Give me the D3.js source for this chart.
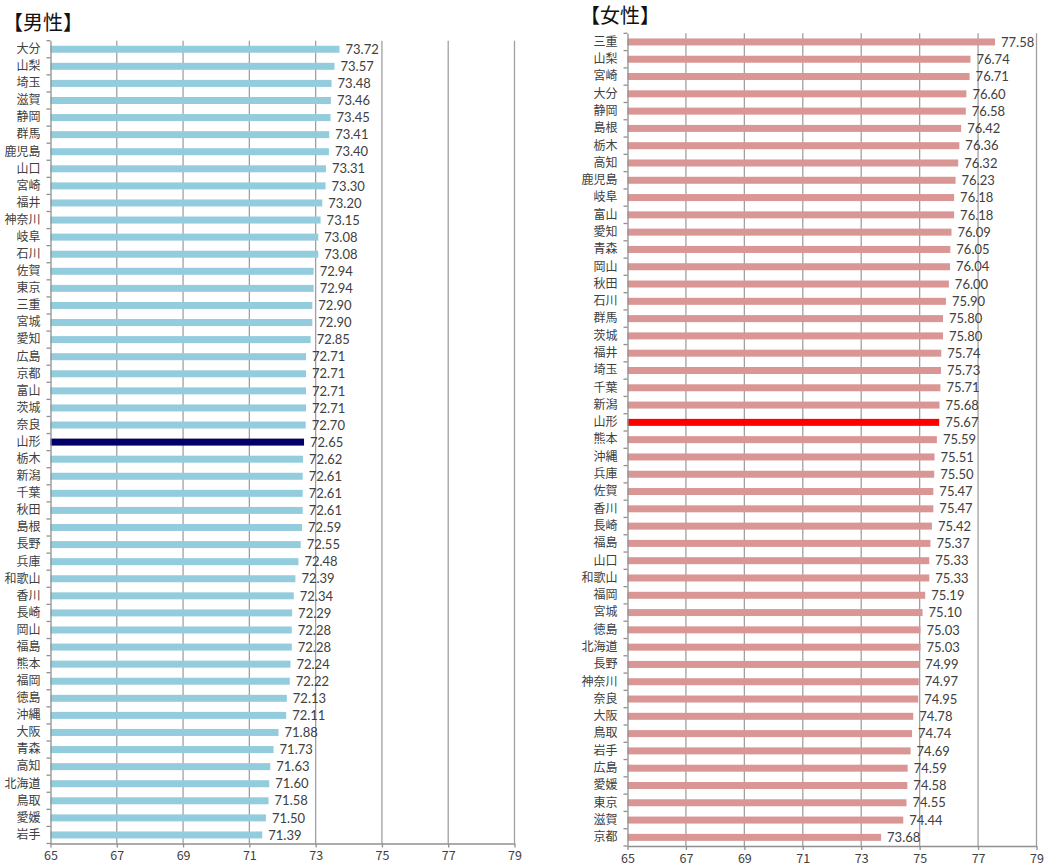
<!DOCTYPE html>
<html>
<head>
<meta charset="utf-8">
<script src="https://cdn.jsdelivr.net/npm/d3@7"></script>
<style>
  body { margin: 0; background: #fff; }
  svg { display: block; }
  text { font-family: "Noto Sans CJK JP", "Noto Sans", sans-serif; }
  .num { font-family: Lato, "Open Sans", sans-serif; }
</style>
</head>
<body>
<svg id="chart" width="1045" height="868"></svg>
<script>
// Male average healthy life expectancy by prefecture (years)
const maleNames = ["大分","山梨","埼玉","滋賀","静岡","群馬","鹿児島","山口","宮崎","福井","神奈川","岐阜","石川","佐賀","東京","三重","宮城","愛知","広島","京都","富山","茨城","奈良","山形","栃木","新潟","千葉","秋田","島根","長野","兵庫","和歌山","香川","長崎","岡山","福島","熊本","福岡","徳島","沖縄","大阪","青森","高知","北海道","鳥取","愛媛","岩手"];
const maleValues = [73.72,73.57,73.48,73.46,73.45,73.41,73.40,73.31,73.30,73.20,73.15,73.08,73.08,72.94,72.94,72.90,72.90,72.85,72.71,72.71,72.71,72.71,72.70,72.65,72.62,72.61,72.61,72.61,72.59,72.55,72.48,72.39,72.34,72.29,72.28,72.28,72.24,72.22,72.13,72.11,71.88,71.73,71.63,71.60,71.58,71.50,71.39];

// Female values
const femaleNames = ["三重","山梨","宮崎","大分","静岡","島根","栃木","高知","鹿児島","岐阜","富山","愛知","青森","岡山","秋田","石川","群馬","茨城","福井","埼玉","千葉","新潟","山形","熊本","沖縄","兵庫","佐賀","香川","長崎","福島","山口","和歌山","福岡","宮城","徳島","北海道","長野","神奈川","奈良","大阪","鳥取","岩手","広島","愛媛","東京","滋賀","京都"];
const femaleValues = [77.58,76.74,76.71,76.60,76.58,76.42,76.36,76.32,76.23,76.18,76.18,76.09,76.05,76.04,76.00,75.90,75.80,75.80,75.74,75.73,75.71,75.68,75.67,75.59,75.51,75.50,75.47,75.47,75.42,75.37,75.33,75.33,75.19,75.10,75.03,75.03,74.99,74.97,74.95,74.78,74.74,74.69,74.59,74.58,74.55,74.44,73.68];

const xTicks = [65, 67, 69, 71, 73, 75, 77, 79];
const highlight = "山形";

const svg = d3.select("#chart");

function drawPanel(cfg) {
  const { names, values, title, titlePos, xRange, yRange, color, hiColor } = cfg;
  const g = svg.append("g");
  const x = d3.scaleLinear().domain([65, 79]).range(xRange);
  const y = d3.scaleBand().domain(names).range(yRange).paddingInner(0).paddingOuter(0);
  const [y0, y1] = yRange;
  const x0 = x(65);

  // vertical gridlines
  g.selectAll("line.grid").data(xTicks.slice(1)).join("line")
    .attr("class", "grid")
    .attr("x1", d => x(d)).attr("x2", d => x(d))
    .attr("y1", y0).attr("y2", y1)
    .attr("stroke", "#a0a0a0").attr("stroke-width", 1.3);

  // bars
  const data = names.map((n, i) => ({ name: n, value: values[i] }));
  const barH = 7;
  g.selectAll("rect.bar").data(data).join("rect")
    .attr("class", "bar")
    .attr("x", x0)
    .attr("y", d => y(d.name) + y.bandwidth() / 2 - barH / 2)
    .attr("width", d => x(d.value) - x0)
    .attr("height", barH)
    .attr("fill", d => d.name === highlight ? hiColor : color);

  // value labels
  g.selectAll("text.val").data(data).join("text")
    .attr("class", "val num")
    .attr("x", d => x(d.value) + 6)
    .attr("y", d => y(d.name) + y.bandwidth() / 2)
    .attr("dy", "0.36em")
    .attr("font-size", 13)
    .attr("fill", "#404040")
    .text(d => d.value.toFixed(2));

  // y axis
  const yAxis = d3.axisLeft(y).tickSize(0).tickPadding(10);
  const ya = g.append("g").attr("transform", `translate(${x0},0)`).call(yAxis);
  ya.select(".domain").attr("stroke", "#909090").attr("stroke-width", 1.3);
  ya.selectAll("text").attr("font-size", 12).attr("fill", "#404040")
    .attr("font-family", "'Noto Sans CJK JP', sans-serif");
  // category boundary ticks
  const step = y.step();
  g.selectAll("line.ytick").data(d3.range(names.length + 1)).join("line")
    .attr("class", "ytick")
    .attr("x1", x0 - 4).attr("x2", x0)
    .attr("y1", i => y0 + i * step).attr("y2", i => y0 + i * step)
    .attr("stroke", "#909090").attr("stroke-width", 1.3);

  // x axis
  const xAxis = d3.axisBottom(x).tickValues(xTicks).tickSize(4).tickSizeOuter(0).tickPadding(4);
  const xa = g.append("g").attr("transform", `translate(0,${y1})`).call(xAxis);
  xa.select(".domain").attr("stroke", "#909090").attr("stroke-width", 1.3);
  xa.selectAll(".tick line").attr("stroke", "#909090").attr("stroke-width", 1.3);
  xa.selectAll("text").attr("font-size", 12.5).attr("fill", "#404040")
    .attr("font-family", "Lato, 'Open Sans', sans-serif");

  // panel title
  svg.append("text")
    .attr("x", titlePos[0]).attr("y", titlePos[1])
    .attr("font-size", 20).attr("fill", "#111")
    .attr("font-weight", 400)
    .text(title);
}

drawPanel({
  names: maleNames, values: maleValues, title: "【男性】",
  titlePos: [3, 30], xRange: [50.5, 514.5], yRange: [40.7, 843.5],
  color: "#93cddd", hiColor: "#000066"
});

drawPanel({
  names: femaleNames, values: femaleValues, title: "【女性】",
  titlePos: [580, 23], xRange: [627.5, 1036.5], yRange: [33.3, 846],
  color: "#d99694", hiColor: "#ff0000"
});
</script>
</body>
</html>
